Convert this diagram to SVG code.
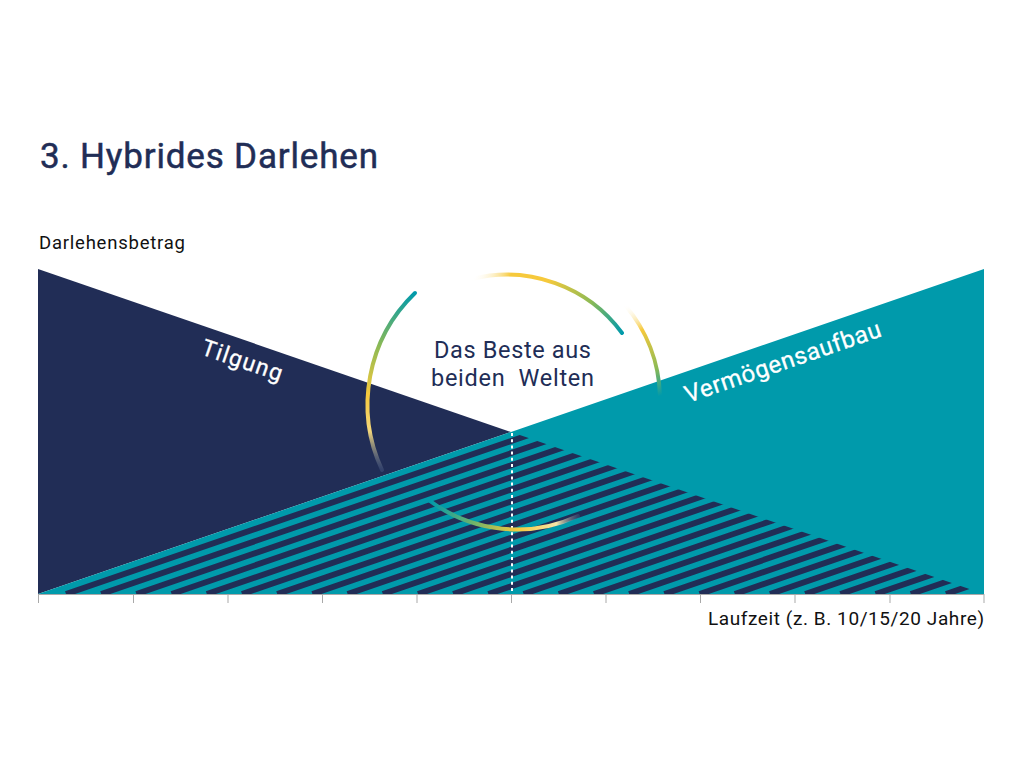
<svg xmlns="http://www.w3.org/2000/svg" width="1024" height="768" viewBox="0 0 1024 768">
<style>
.t{font-family:Roboto,"Liberation Sans",sans-serif}
.navy{fill:#212d56}
.arc{fill:none;stroke-width:4;stroke-linecap:round}
.tick{stroke:#a9a9a9;stroke-width:1;fill:none}
</style>
<defs>
<clipPath id="mid"><polygon points="38,594 511,432 984,594"/></clipPath>
<linearGradient id="gl" gradientUnits="userSpaceOnUse" x1="415" y1="293" x2="382" y2="470">
<stop offset="0" stop-color="#009aab"/><stop offset=".33" stop-color="#8dba54"/><stop offset=".6" stop-color="#f6c93c"/><stop offset=".8" stop-color="#f3d67a"/><stop offset="1" stop-color="#5a6f9a" stop-opacity=".3"/>
</linearGradient>
<linearGradient id="gt" gradientUnits="userSpaceOnUse" x1="472" y1="279" x2="622" y2="333">
<stop offset="0" stop-color="#fff" stop-opacity="0"/><stop offset=".22" stop-color="#f6c93c"/><stop offset=".45" stop-color="#f6c93c"/><stop offset=".75" stop-color="#8dba54"/><stop offset="1" stop-color="#009aab"/>
</linearGradient>
<linearGradient id="gr" gradientUnits="userSpaceOnUse" x1="625" y1="305" x2="660" y2="396">
<stop offset="0" stop-color="#fff" stop-opacity="0"/><stop offset=".3" stop-color="#f6c93c"/><stop offset=".72" stop-color="#8dba54"/><stop offset="1" stop-color="#009aab"/>
</linearGradient>
<linearGradient id="gb" gradientUnits="userSpaceOnUse" x1="430" y1="501" x2="580" y2="516">
<stop offset="0" stop-color="#009aab"/><stop offset=".3" stop-color="#6fb36a"/><stop offset=".6" stop-color="#f6c93c"/><stop offset=".85" stop-color="#f5e6a8"/><stop offset="1" stop-color="#5a6f9a" stop-opacity=".2"/>
</linearGradient>
</defs>
<g id="title"><text class="t navy" x="40" y="168" font-size="35" stroke="#212d56" stroke-width=".5" textLength="338" lengthAdjust="spacing">3. Hybrides Darlehen</text></g>
<g id="y-axis-label"><text class="t" x="39" y="249" font-size="18.5" fill="#111" textLength="146" lengthAdjust="spacing">Darlehensbetrag</text></g>
<g id="chart">
<polygon class="navy" points="38,269 511,432 38,594"/>
<polygon fill="#009aab" points="38,594 511,432 984,269 984,594"/>
<path clip-path="url(#mid)" stroke="#212d56" stroke-width="5.900" fill="none" d="M66,594l946,-325M101.200,594l946,-325M136.400,594l946,-325M171.600,594l946,-325M206.800,594l946,-325M242,594l946,-325M277.200,594l946,-325M312.400,594l946,-325M347.600,594l946,-325M382.800,594l946,-325M418,594l946,-325M453.200,594l946,-325M488.400,594l946,-325M523.600,594l946,-325M558.800,594l946,-325M594,594l946,-325M629.200,594l946,-325M664.400,594l946,-325M699.600,594l946,-325M734.800,594l946,-325M770,594l946,-325M805.200,594l946,-325M840.400,594l946,-325M875.600,594l946,-325M910.800,594l946,-325M946,594l946,-325"/>
<line x1="512" y1="433" x2="512" y2="594" stroke="#fff" stroke-width="2" stroke-dasharray="3 3.200"/>
</g>
<g id="axis" class="tick">
<path d="M38,594.500H984M38.500,594V603M133.500,594V603M228,594V603M322.500,594V603M417,594V603M511.500,594V603M606,594V603M700.500,594V603M795,594V603M890,594V603M984,594V603"/>
</g>
<g id="connectors">
<path class="arc" stroke="url(#gl)" d="M415,293A155,155 0 0 0 382,470"/>
<path class="arc" stroke="url(#gt)" stroke-linecap="butt" d="M472,279A143,143 0 0 1 622,333"/>
<path class="arc" stroke="url(#gr)" d="M625,305A147,147 0 0 1 660,396"/>
<path class="arc" stroke="url(#gb)" d="M430,501A146,146 0 0 0 578,516"/>
</g>
<g id="center-label" class="t navy" font-size="23.500">
<text x="434" y="358" textLength="157" lengthAdjust="spacing">Das Beste aus</text>
<text x="431" y="386" textLength="163" lengthAdjust="spacing" xml:space="preserve">beiden  Welten</text>
</g>
<g id="tilgung"><text class="t" fill="#fff" stroke="#fff" stroke-width=".3" font-size="23" transform="translate(200,354) rotate(19)" textLength="84" lengthAdjust="spacing">Tilgung</text></g>
<g id="vermoegensaufbau"><text class="t" fill="#fff" stroke="#fff" stroke-width=".3" font-size="24" transform="translate(688,403) rotate(-19)" textLength="206" lengthAdjust="spacing">Vermögensaufbau</text></g>
<g id="x-axis-label"><text class="t" x="708" y="625" font-size="19" fill="#111" textLength="276" lengthAdjust="spacing">Laufzeit (z. B. 10/15/20 Jahre)</text></g>
</svg>
